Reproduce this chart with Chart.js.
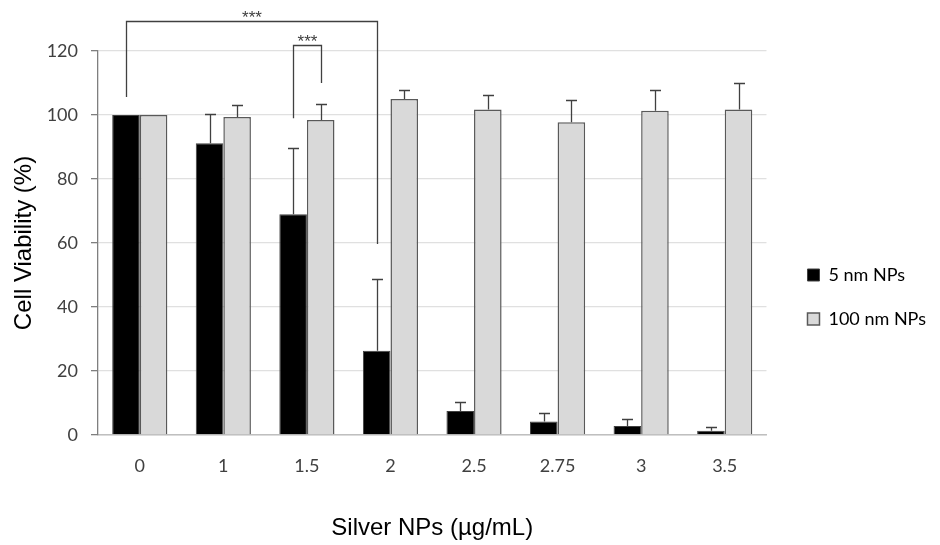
<!DOCTYPE html>
<html>
<head>
<meta charset="utf-8">
<script src="https://cdn.jsdelivr.net/npm/chart.js@4.4.1/dist/chart.umd.min.js"></script>
<style>
  html, body { margin: 0; padding: 0; background: #ffffff; }
  #wrap { width: 940px; height: 545px; position: relative; }
</style>
</head>
<body>
<div id="wrap"><canvas id="c" width="940" height="545"></canvas></div>
<script>
// ---- data ----
const categories = ['0', '1', '1.5', '2', '2.5', '2.75', '3', '3.5'];
const seriesNames = ['5 nm NPs', '100 nm NPs'];
const viability5nm   = [100, 91.2, 69.0, 26.3, 7.5, 4.2, 2.8, 1.3];
const error5nm       = [0, 9.0, 20.8, 22.5, 2.9, 2.6, 2.2, 1.2];
const viability100nm = [100, 99.4, 98.4, 105.0, 101.7, 97.7, 101.3, 101.7];
const error100nm     = [0, 3.7, 5.0, 2.7, 4.6, 7.0, 6.4, 8.3];
const yTicks = [0, 20, 40, 60, 80, 100, 120];
// significance brackets: [category index, dataset index] endpoints, value levels
const bracketFrom   = [[0, 0], [2, 0]];
const bracketTo     = [[3, 0], [2, 1]];
const bracketTop    = [129.4, 121.8];
const bracketLeftEnd  = [105.6, 99.0];
const bracketRightEnd = [59.7, 110.0];
const bracketLabels = ['***', '***'];

const errorData = [error5nm, error100nm];

const errorBarPlugin = {
  id: 'errorBars',
  afterDatasetsDraw(chart) {
    const ctx = chart.ctx;
    const y = chart.scales.y;
    ctx.save();
    ctx.strokeStyle = '#404040';
    ctx.lineWidth = 1.3;
    chart.data.datasets.forEach((ds, di) => {
      const meta = chart.getDatasetMeta(di);
      meta.data.forEach((el, i) => {
        const e = errorData[di][i];
        if (!e) return;
        const x = Math.round(el.x) + 0.5;
        const y0 = y.getPixelForValue(ds.data[i]);
        const y1 = Math.round(y.getPixelForValue(ds.data[i] + e)) + 0.5;
        ctx.beginPath();
        ctx.moveTo(x, y0);
        ctx.lineTo(x, y1);
        ctx.moveTo(x - 5.5, y1);
        ctx.lineTo(x + 5.5, y1);
        ctx.stroke();
      });
    });
    ctx.restore();
  }
};

const bracketPlugin = {
  id: 'brackets',
  afterDraw(chart) {
    const ctx = chart.ctx;
    const y = chart.scales.y;
    ctx.save();
    ctx.strokeStyle = '#404040';
    ctx.lineWidth = 1.3;
    ctx.fillStyle = '#404040';
    ctx.font = '17px "Liberation Sans", Arial, sans-serif';
    ctx.textAlign = 'center';
    ctx.textBaseline = 'alphabetic';
    bracketTop.forEach((top, k) => {
      const a = chart.getDatasetMeta(bracketFrom[k][1]).data[bracketFrom[k][0]];
      const b = chart.getDatasetMeta(bracketTo[k][1]).data[bracketTo[k][0]];
      const xa = Math.round(a.x) + 0.5, xb = Math.round(b.x) + 0.5;
      const yt = Math.round(y.getPixelForValue(top)) + 0.5;
      ctx.beginPath();
      ctx.moveTo(xa, y.getPixelForValue(bracketLeftEnd[k]));
      ctx.lineTo(xa, yt);
      ctx.lineTo(xb, yt);
      ctx.lineTo(xb, y.getPixelForValue(bracketRightEnd[k]));
      ctx.stroke();
      ctx.fillText(bracketLabels[k], (xa + xb) / 2, yt + 1.5);
    });
    ctx.restore();
  }
};

new Chart(document.getElementById('c'), {
  type: 'bar',
  data: {
    labels: categories,
    datasets: [
      {
        label: seriesNames[0],
        data: viability5nm,
        backgroundColor: '#000000',
        borderColor: '#404040',
        borderWidth: 1,
        categoryPercentage: 0.66,
        barPercentage: 1.0
      },
      {
        label: seriesNames[1],
        data: viability100nm,
        backgroundColor: '#d9d9d9',
        borderColor: '#595959',
        borderWidth: 1.5,
        categoryPercentage: 0.66,
        barPercentage: 1.0
      }
    ]
  },
  options: {
    responsive: false,
    animation: false,
    layout: { padding: { top: 51, left: 2, right: 4, bottom: 2 } },
    plugins: {
      tooltip: { enabled: false },
      legend: {
        position: 'right',
        align: 'center',
        labels: {
          color: '#000000',
          font: { family: 'Lato', size: 18 },
          boxWidth: 12,
          boxHeight: 12,
          padding: 26
        }
      }
    },
    scales: {
      x: {
        grid: { display: false, drawTicks: false },
        border: { display: true, color: '#bfbfbf', width: 1.5 },
        ticks: {
          color: '#404040',
          font: { family: 'Lato', size: 18 },
          padding: 20,
          maxRotation: 0
        },
        title: {
          display: true,
          text: 'Silver NPs (µg/mL)',
          color: '#000000',
          font: { family: '"Liberation Sans", Arial, sans-serif', size: 24 },
          padding: { top: 40, bottom: 0 }
        },
        afterFit(scale) { scale.height = 108; }
      },
      y: {
        min: 0,
        max: 120,
        afterBuildTicks(scale) { scale.ticks = yTicks.map(v => ({ value: v })); },
        grid: {
          color: '#e0e0e0',
          lineWidth: 1.3,
          drawTicks: true,
          tickLength: 7,
          tickColor: '#7f7f7f',
          tickWidth: 1.3
        },
        border: { display: true, color: '#7f7f7f', width: 1.3 },
        ticks: {
          color: '#404040',
          font: { family: 'Lato', size: 18 },
          padding: 13
        },
        title: {
          display: true,
          text: 'Cell Viability (%)',
          color: '#000000',
          font: { family: '"Liberation Sans", Arial, sans-serif', size: 24 },
          padding: { top: 8, bottom: 8 }
        },
        afterFit(scale) { scale.width = 96; }
      },
      yGap: {
        position: 'right',
        display: true,
        grid: { display: false, drawTicks: false },
        border: { display: false },
        ticks: { display: false },
        afterFit(scale) { scale.width = 15; }
      }
    }
  },
  plugins: [errorBarPlugin, bracketPlugin]
});
</script>
</body>
</html>
